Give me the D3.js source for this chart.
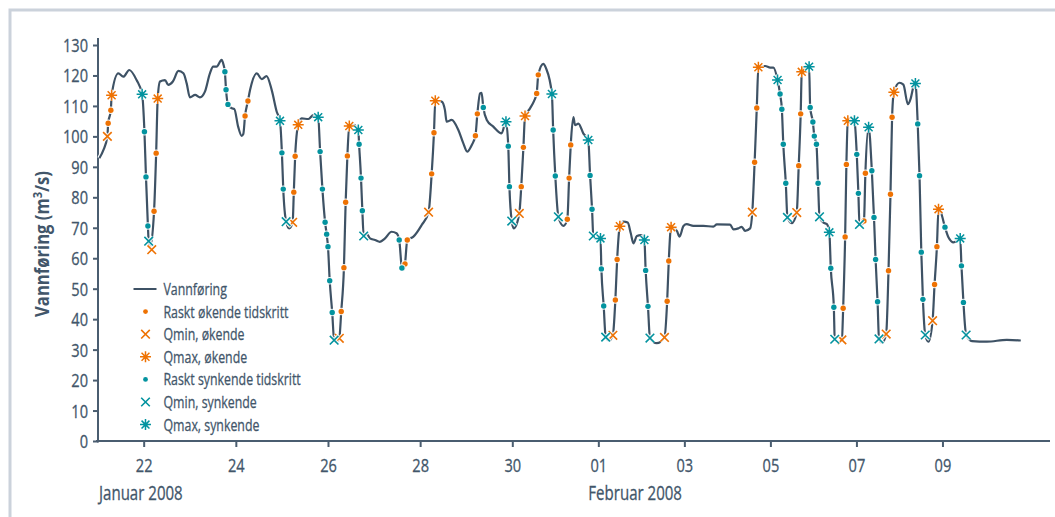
<!DOCTYPE html>
<html>
<head>
<meta charset="utf-8">
<script src="https://cdn.jsdelivr.net/npm/d3@7"></script>
<style>
  body { margin: 0; background: #fff; }
  text { font-family: "Open Sans", "Noto Sans", sans-serif; fill: #42566a; }
  text.plain { stroke: #42566a; stroke-width: 0.3px; }
</style>
</head>
<body>
<svg id="chart" width="1055" height="517"></svg>
<script>
// Hourly discharge, hours counted from 2008-01-21 00:00, value in m3/s
const flow = [[0.9,92.8],[3.0,95.5],[5.1,100.0],[5.5,104.3],[6.9,108.6],[7.3,113.5],[10.8,120.7],[13.4,119.6],[16.5,121.8],[20.3,118.5],[23.2,113.8],[24.4,101.5],[25.2,86.7],[26.2,70.6],[26.6,65.6],[27.4,63.8],[29.4,75.4],[30.5,94.5],[31.3,112.4],[32.5,118.0],[35.1,118.5],[36.8,116.9],[39.2,118.0],[42.1,121.5],[44.7,120.7],[46.4,117.4],[48.1,112.8],[50.8,113.6],[53.3,112.8],[55.9,114.7],[58.5,120.7],[60.2,122.9],[62.0,122.9],[64.6,125.1],[65.6,123.5],[66.3,121.2],[66.9,115.3],[67.9,110.5],[69.9,109.2],[71.2,109.0],[73.2,103.2],[75.0,100.2],[75.9,100.8],[76.8,106.7],[78.3,111.6],[79.4,115.2],[82.9,120.7],[85.5,118.8],[88.0,119.8],[90.7,115.2],[93.3,108.1],[95.0,105.1],[96.0,94.6],[96.7,82.7],[98.2,72.0],[99.8,69.8],[101.6,71.8],[102.2,81.7],[102.9,93.5],[104.5,103.8],[106.3,105.9],[109.8,105.7],[112.4,107.0],[114.9,106.3],[115.9,95.0],[117.1,82.7],[118.5,71.8],[119.3,67.9],[120.0,63.8],[120.9,52.6],[122.2,42.2],[123.2,33.1],[124.6,32.5],[125.9,33.7],[126.9,42.5],[128.3,56.9],[129.2,78.4],[130.1,93.6],[131.1,103.4],[133.3,103.8],[135.8,102.1],[136.2,97.4],[137.2,86.3],[137.9,75.6],[138.6,67.3],[140.2,68.0],[141.9,66.5],[144.5,66.0],[147.0,65.4],[149.7,66.5],[153.1,68.7],[155.7,68.2],[157.1,66.0],[158.5,56.8],[159.3,56.2],[160.1,58.1],[161.3,66.0],[164.5,67.1],[168.8,70.9],[172.4,75.1],[174.0,87.7],[175.2,101.2],[175.9,111.7],[179.2,111.4],[180.9,108.7],[181.8,104.8],[184.4,105.4],[187.9,102.1],[190.5,97.7],[192.5,95.0],[194.9,97.2],[196.8,100.2],[197.8,107.4],[199.2,114.1],[200.0,114.3],[200.9,109.5],[202.7,105.4],[206.1,103.2],[210.4,101.0],[212.7,104.8],[213.9,96.8],[214.5,83.5],[215.7,72.2],[216.8,69.8],[219.9,74.7],[221.0,83.5],[222.2,96.4],[223.1,106.7],[225.9,109.2],[228.1,111.6],[229.6,114.1],[230.5,120.2],[233.3,123.8],[234.8,122.4],[238.1,113.9],[238.8,102.1],[240.0,87.0],[241.7,73.6],[244.5,70.6],[246.7,72.8],[247.7,86.3],[248.6,97.2],[250.1,106.3],[251.0,103.7],[252.9,104.2],[255.6,101.0],[258.4,98.8],[259.4,87.2],[260.5,76.1],[261.2,67.3],[263.6,66.0],[265.2,66.5],[265.7,56.5],[267.0,44.3],[268.1,34.1],[269.9,33.0],[272.1,34.7],[273.5,46.3],[274.5,59.6],[276.0,70.5],[278.0,72.0],[280.4,71.7],[282.1,68.2],[283.6,64.9],[285.5,67.3],[287.8,67.6],[289.7,66.0],[290.4,56.0],[291.7,44.2],[292.8,33.8],[296.6,32.1],[300.9,34.0],[302.4,45.9],[303.3,59.1],[304.6,70.2],[307.8,69.0],[309.3,67.1],[311.5,70.6],[313.3,71.2],[317.0,70.6],[322.6,70.6],[328.2,70.4],[330.1,71.1],[337.5,71.0],[339.4,69.5],[342.1,69.8],[344.0,70.3],[345.9,69.0],[348.7,69.8],[349.9,75.1],[351.2,91.5],[352.4,109.3],[353.3,122.7],[357.1,123.1],[359.9,122.6],[361.7,122.6],[364.0,118.5],[365.4,113.9],[366.4,108.9],[367.2,97.4],[368.6,84.6],[369.5,73.4],[371.9,71.5],[374.7,75.0],[375.8,90.4],[376.9,107.4],[377.5,121.2],[379.6,123.0],[381.6,122.9],[382.2,109.5],[383.7,104.7],[384.5,100.1],[385.7,97.4],[386.6,84.6],[387.4,73.6],[389.6,71.7],[391.5,71.2],[392.9,68.5],[393.7,56.7],[395.4,43.9],[395.9,33.4],[397.8,32.5],[399.9,33.2],[400.6,43.6],[401.7,67.0],[402.4,90.8],[403.2,105.1],[405.0,106.0],[406.9,105.1],[408.2,94.1],[409.1,81.3],[409.7,71.1],[411.1,71.0],[412.2,72.2],[413.0,87.9],[414.8,103.0],[416.6,88.7],[417.8,73.4],[418.7,59.6],[419.8,45.7],[420.6,33.5],[422.4,32.3],[424.6,35.1],[425.9,55.9],[427.0,81.0],[427.9,106.3],[428.9,114.5],[432.0,117.6],[434.2,117.0],[436.7,110.6],[438.3,112.5],[439.8,116.3],[440.9,117.4],[442.2,104.1],[443.2,87.1],[444.2,62.0],[445.1,46.5],[446.4,34.8],[448.2,32.6],[450.5,39.5],[451.6,51.4],[452.9,63.8],[453.8,76.1],[455.3,74.7],[457.4,70.2],[459.4,66.8],[462.2,65.2],[464.2,65.8],[465.9,66.5],[466.6,57.5],[467.7,45.5],[469.2,34.8],[472.5,32.8],[480.8,32.6],[491.9,33.2],[499.7,33.0]];

// Rapidly rising time steps
const risingSteps = [[5.5,104.3],[6.9,108.6],[29.4,75.4],[30.5,94.5],[76.8,106.7],[78.3,111.6],[102.2,81.7],[102.9,93.5],[126.9,42.5],[128.3,56.9],[129.2,78.4],[130.1,93.6],[160.1,58.1],[161.3,66.0],[174.0,87.7],[175.2,101.2],[196.8,100.2],[197.8,107.4],[221.0,83.5],[222.2,96.4],[229.6,114.1],[230.5,120.2],[246.7,72.8],[247.7,86.3],[248.6,97.2],[273.5,46.3],[274.5,59.6],[302.4,45.9],[303.3,59.1],[351.2,91.5],[352.4,109.3],[375.8,90.4],[376.9,107.4],[400.6,43.6],[401.7,67.0],[402.4,90.8],[412.2,72.2],[413.0,87.9],[425.9,55.9],[427.0,81.0],[427.9,106.3],[451.6,51.4],[452.9,63.8]];
const qminRising = [[5.1,100.0],[28.2,62.8],[101.6,71.8],[125.9,33.7],[172.4,75.1],[219.9,74.7],[272.1,34.7],[300.9,34.0],[349.9,75.1],[374.7,75.0],[399.9,33.2],[424.6,35.1],[450.5,39.5]];
const qmaxRising = [[7.3,113.5],[31.3,112.4],[104.5,103.8],[131.1,103.4],[175.9,111.7],[223.1,106.7],[276.0,70.5],[304.6,70.2],[353.3,122.7],[377.5,121.2],[403.2,105.1],[428.9,114.5],[453.8,76.1]];

// Rapidly falling time steps
const fallingSteps = [[24.4,101.5],[25.2,86.7],[26.2,70.6],[66.3,121.2],[66.9,115.3],[67.9,110.5],[96.0,94.6],[96.7,82.7],[115.9,95.0],[117.1,82.7],[118.5,71.8],[119.3,67.9],[120.0,63.8],[120.9,52.6],[122.2,42.2],[136.2,97.4],[137.2,86.3],[137.9,75.6],[157.1,66.0],[158.5,56.8],[200.9,109.5],[213.9,96.8],[214.5,83.5],[238.8,102.1],[240.0,87.0],[259.4,87.2],[260.5,76.1],[265.7,56.5],[267.0,44.3],[290.4,56.0],[291.7,44.2],[365.4,113.9],[366.4,108.9],[367.2,97.4],[368.6,84.6],[382.2,109.5],[383.7,104.7],[384.5,100.1],[385.7,97.4],[386.6,84.6],[393.7,56.7],[395.4,43.9],[408.2,94.1],[409.1,81.3],[416.6,88.7],[417.8,73.4],[418.7,59.6],[419.8,45.7],[442.2,104.1],[443.2,87.1],[444.2,62.0],[445.1,46.5],[457.4,70.2],[466.6,57.5],[467.7,45.5]];
const qminFalling = [[26.6,65.6],[98.2,72.0],[123.2,33.1],[138.6,67.3],[215.7,72.2],[241.7,73.6],[261.2,67.3],[268.1,34.1],[292.8,33.8],[369.5,73.4],[387.4,73.6],[395.9,33.4],[409.7,71.1],[420.6,33.5],[446.4,34.8],[469.2,34.8]];
const qmaxFalling = [[23.2,113.8],[95.0,105.1],[114.9,106.3],[135.8,102.1],[212.7,104.8],[238.1,113.9],[258.4,98.8],[265.2,66.5],[289.7,66.0],[364.0,118.5],[381.6,122.9],[392.9,68.5],[406.9,105.1],[414.8,103.0],[440.9,117.4],[465.9,66.5]];

const yTicks = [0,10,20,30,40,50,60,70,80,90,100,110,120,130];
const xTicks = ["2008-01-22","2008-01-24","2008-01-26","2008-01-28","2008-01-30","2008-02-01","2008-02-03","2008-02-05","2008-02-07","2008-02-09"];
const monthLabels = [["2008-01-21","Januar 2008"],["2008-02-01","Februar 2008"]];
const legendNames = ["Vannføring","Raskt økende tidskritt","Qmin, økende","Qmax, økende","Raskt synkende tidskritt","Qmin, synkende","Qmax, synkende"];

const ORANGE = "#ee7203", TEAL = "#03939f", LINE = "#3e5265", AXIS = "#4a5d70", INK = "#42566a";

const start = new Date(2008, 0, 21, 0, 0);
const toDate = h => new Date(+start + h * 3600e3);
const parseDay = d3.timeParse("%Y-%m-%d");

// Squeeze a group of labels into a condensed face: the reference label sets the factor
function condense(sel, refText, refWidth) {
  const ref = sel.filter(function () { return this.textContent === refText; }).node();
  const f = refWidth / ref.getComputedTextLength();
  sel.each(function () {
    const w = this.getComputedTextLength();
    d3.select(this).attr("textLength", w * f).attr("lengthAdjust", "spacingAndGlyphs");
  });
}

const svg = d3.select("#chart");

// Frame around the figure
svg.append("path").attr("d", "M10,517V10H1055")
  .attr("fill", "none").attr("stroke", "#cbd2db").attr("stroke-width", 3);

// The January part of the time axis is drawn slightly wider per day than February
const x = d3.scaleTime()
  .domain([new Date(2008, 0, 21, 0, 0), new Date(2008, 0, 30, 0, 0), new Date(2008, 1, 11, 12, 0)])
  .range([97.6, 512.3, 1050]);
const y = d3.scaleLinear().domain([0, 130]).range([441, 45]);

// Y axis
const yAxis = svg.append("g").attr("transform", "translate(98,0)")
  .call(d3.axisLeft(y).tickValues(yTicks).tickSize(5).tickPadding(5));
yAxis.select(".domain").remove();
yAxis.append("line").attr("y1", 38).attr("y2", 442.5).attr("stroke", AXIS).attr("stroke-width", 2);
yAxis.selectAll(".tick line").attr("stroke", AXIS).attr("stroke-width", 2);
const yLabels = yAxis.selectAll(".tick text").attr("class", "plain").attr("font-size", 18).style("fill", INK).attr("dy", "0.36em");
condense(yLabels, "130", 25);

// X axis
const xAxis = svg.append("g").attr("transform", "translate(0,441)")
  .call(d3.axisBottom(x).tickValues(xTicks.map(parseDay)).tickFormat(d3.timeFormat("%d")).tickSize(6));
xAxis.select(".domain").remove();
xAxis.append("line").attr("x1", 96).attr("x2", 1050).attr("stroke", AXIS).attr("stroke-width", 2);
xAxis.selectAll(".tick line").attr("stroke", AXIS).attr("stroke-width", 2);
const xLabels = xAxis.selectAll(".tick text").attr("class", "plain").attr("font-size", 18.5).attr("y", 31).attr("dy", 0).style("fill", INK);
condense(xLabels, "22", 16.7);

const months = svg.selectAll(".month").data(monthLabels).join("text")
  .attr("class", "month plain")
  .attr("x", (d, i) => x(parseDay(d[0])) + (i === 0 ? 1.4 : -10))
  .attr("y", 500).attr("font-size", 20).text(d => d[1]);
condense(months, "Januar 2008", 83.7);

// Y axis title
const title = svg.append("text")
  .attr("text-anchor", "middle").attr("font-size", 19.5).attr("font-weight", "bold");
title.append("tspan").text("Vannføring (m");
title.append("tspan").attr("font-size", 13).attr("dy", -7).text("3");
title.append("tspan").attr("dy", 7).text("/s)");
const titleScale = 146 / title.node().getComputedTextLength();
title.attr("transform", `translate(49,244) rotate(-90) scale(${titleScale},1)`);

// Discharge line with white halo
const line = d3.line().x(d => x(toDate(d[0]))).y(d => y(d[1])).curve(d3.curveMonotoneX);
svg.append("path").datum(flow).attr("d", line)
  .attr("fill", "none").attr("stroke", "#fff").attr("stroke-width", 4.5).attr("stroke-linejoin", "round");
svg.append("path").datum(flow).attr("d", line)
  .attr("fill", "none").attr("stroke", LINE).attr("stroke-width", 2.2).attr("stroke-linejoin", "round");

// Marker shapes
function drawDot(g, color, r) {
  g.append("circle").attr("r", r + 1).attr("fill", "#fff").attr("fill-opacity", 0.9);
  g.append("circle").attr("r", r).attr("fill", color);
}
function drawCross(g, color, s) {
  const d = `M${-s},${-s}L${s},${s}M${-s},${s}L${s},${-s}`;
  g.append("path").attr("d", d).attr("stroke", "#fff").attr("stroke-width", 4).attr("stroke-opacity", 0.85);
  g.append("path").attr("d", d).attr("stroke", color).attr("stroke-width", 1.6);
}
function drawStar(g, color, s) {
  const k = s * 0.72;
  const d = `M${-s},0H${s}M0,${-s}V${s}M${-k},${-k}L${k},${k}M${-k},${k}L${k},${-k}`;
  g.append("path").attr("d", d).attr("stroke", "#fff").attr("stroke-width", 4).attr("stroke-opacity", 0.85);
  g.append("path").attr("d", d).attr("stroke", color).attr("stroke-width", 1.5);
  g.append("circle").attr("r", 2).attr("fill", color);
}

function markerLayer(data, draw, color, size) {
  svg.append("g").selectAll("g").data(data).join("g")
    .attr("transform", d => `translate(${x(toDate(d[0]))},${y(d[1])})`)
    .each(function () { draw(d3.select(this), color, size); });
}
markerLayer(risingSteps, drawDot, ORANGE, 2.7);
markerLayer(fallingSteps, drawDot, TEAL, 2.7);
markerLayer(qminRising, drawCross, ORANGE, 4.3);
markerLayer(qminFalling, drawCross, TEAL, 4.3);
markerLayer(qmaxRising, drawStar, ORANGE, 5.5);
markerLayer(qmaxFalling, drawStar, TEAL, 5.5);

// Legend
const legendDraw = [
  g => g.append("line").attr("x1", -12).attr("x2", 11).attr("stroke", LINE).attr("stroke-width", 2),
  g => drawDot(g, ORANGE, 2.4),
  g => drawCross(g, ORANGE, 4.3),
  g => drawStar(g, ORANGE, 5.5),
  g => drawDot(g, TEAL, 2.4),
  g => drawCross(g, TEAL, 4.3),
  g => drawStar(g, TEAL, 5.5)
];
const legend = svg.append("g").selectAll("g").data(legendNames).join("g")
  .attr("transform", (d, i) => `translate(145.5,${289 + i * 22.6})`);
legend.each(function (d, i) { legendDraw[i](d3.select(this)); });
const legendText = legend.append("text").attr("class", "plain").attr("x", 18).attr("dy", "0.35em").attr("font-size", 17).text(d => d);
condense(legendText, "Raskt økende tidskritt", 125);
</script>
</body>
</html>
